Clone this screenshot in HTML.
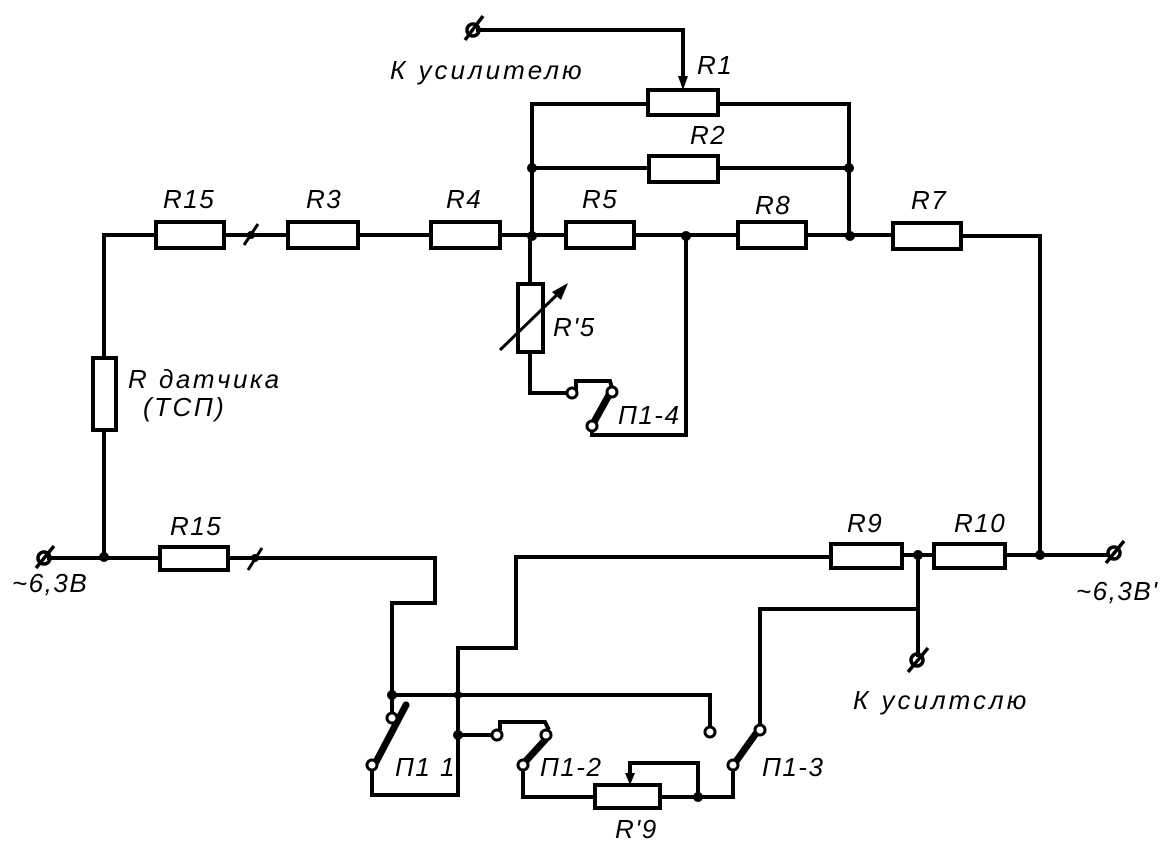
<!DOCTYPE html>
<html><head><meta charset="utf-8"><style>
html,body{margin:0;padding:0;background:#fff;}
svg{display:block}
text{font-family:"Liberation Sans","DejaVu Sans",sans-serif;font-style:italic;fill:#000;}
</style></head><body>
<svg width="1162" height="848" viewBox="0 0 1162 848" xmlns="http://www.w3.org/2000/svg">
<g fill="none" stroke="#000" stroke-width="4" stroke-linecap="square" stroke-linejoin="miter">
<polyline points="478,30 683,30 683,80"/>
<polyline points="648,104 532,104 532,236"/>
<polyline points="718,104 849,104 849,236"/>
<line x1="532" y1="168" x2="649" y2="168"/>
<line x1="718" y1="168" x2="849" y2="168"/>
<polyline points="104,555 104,430"/>
<polyline points="104,358 104,235 156,235"/>
<line x1="224" y1="235" x2="288" y2="235"/>
<line x1="358" y1="235" x2="431" y2="235"/>
<line x1="500" y1="235" x2="566" y2="235"/>
<line x1="634" y1="235" x2="738" y2="235"/>
<line x1="806" y1="235" x2="893" y2="235"/>
<polyline points="961,236 1040,236 1040,555"/>
<line x1="530" y1="236" x2="530" y2="284"/>
<polyline points="530,352 530,393 569,393"/>
<polyline points="576,388 576,381 610,381 612,388"/>
<polyline points="592,430 592,435 686,435 686,236"/>
<line x1="49" y1="558" x2="160" y2="558"/>
<polyline points="228,558 435,558 435,603 392,603 392,713"/>
<polyline points="392,695 710,695 710,724"/>
<polyline points="831,557 516,557 516,648 458,648 458,795 372,795 372,770"/>
<line x1="458" y1="735" x2="492" y2="735"/>
<polyline points="500,728 500,722 545,722 548,728"/>
<polyline points="523,770 523,797 595,797"/>
<line x1="660" y1="797" x2="733" y2="797"/>
<polyline points="698,797 698,763 630,763 630,778"/>
<line x1="733" y1="797" x2="733" y2="770"/>
<line x1="902" y1="555" x2="934" y2="555"/>
<line x1="1005" y1="555" x2="1108" y2="555"/>
<line x1="918" y1="555" x2="918" y2="655"/>
<polyline points="918,609 760,609 760,725"/>
</g>
<g fill="#fff" stroke="#000" stroke-width="4">
<rect x="648" y="90" width="70" height="25"/>
<rect x="649" y="156" width="69" height="26"/>
<rect x="156" y="222" width="68" height="26"/>
<rect x="288" y="222" width="70" height="26"/>
<rect x="431" y="222" width="69" height="26"/>
<rect x="566" y="222" width="68" height="26"/>
<rect x="738" y="222" width="68" height="26"/>
<rect x="893" y="223" width="68" height="26"/>
<rect x="518" y="284" width="25" height="68"/>
<rect x="93" y="358" width="23" height="72"/>
<rect x="160" y="547" width="68" height="23"/>
<rect x="831" y="544" width="71" height="24"/>
<rect x="934" y="544" width="71" height="24"/>
<rect x="595" y="785" width="65" height="23"/>
</g>
<polygon points="678,76 688,76 683,90" fill="#000"/>
<polygon points="625,773 635,773 630,785" fill="#000"/>
<line x1="500" y1="350" x2="565" y2="287" stroke="#000" stroke-width="3"/>
<polygon points="568,283 552,292 561,300" fill="#000"/>
<g stroke="#000" stroke-width="3">
<line x1="244" y1="245" x2="258" y2="224"/>
<line x1="248" y1="570" x2="262" y2="548"/>
</g>
<g fill="#000">
<circle cx="251" cy="235" r="4"/><circle cx="255" cy="558" r="4"/>
<circle cx="532" cy="168" r="5"/><circle cx="849" cy="168" r="5"/>
<circle cx="532" cy="236" r="5"/><circle cx="686" cy="236" r="5"/><circle cx="850" cy="236" r="5"/>
<circle cx="104" cy="557" r="5"/><circle cx="918" cy="555" r="5"/><circle cx="1040" cy="555" r="5"/>
<circle cx="392" cy="695" r="5"/><circle cx="458" cy="695" r="4"/><circle cx="458" cy="735" r="5"/>
<circle cx="698" cy="797" r="5"/>
</g>
<g stroke="#000" stroke-width="7" stroke-linecap="round">
<line x1="406" y1="705" x2="376" y2="762"/>
<line x1="545" y1="740" x2="525" y2="762"/>
<line x1="757" y1="732" x2="737" y2="760"/>
<line x1="609" y1="395" x2="594" y2="422"/>
</g>
<g fill="#fff" stroke="#000" stroke-width="3">
<circle cx="572" cy="393" r="5"/><circle cx="612" cy="392" r="5"/><circle cx="592" cy="426" r="5"/>
<circle cx="392" cy="718" r="5"/><circle cx="372" cy="765" r="5"/>
<circle cx="497" cy="735" r="5"/><circle cx="546" cy="735" r="5"/><circle cx="523" cy="765" r="5"/>
<circle cx="710" cy="732" r="5"/>
<circle cx="760" cy="730" r="5"/><circle cx="733" cy="765" r="5"/>
</g>
<g fill="none" stroke="#000" stroke-width="3.5">
<circle cx="473" cy="30" r="6"/><line x1="465" y1="40" x2="483" y2="16"/>
<circle cx="44" cy="558" r="6"/><line x1="36" y1="568" x2="54" y2="546"/>
<circle cx="1114" cy="553" r="6"/><line x1="1106" y1="563" x2="1124" y2="541"/>
<circle cx="917" cy="660" r="6"/><line x1="908" y1="672" x2="928" y2="648"/>
</g>
<g font-size="26" letter-spacing="1.5">
<text x="390" y="79" letter-spacing="3">К усилителю</text>
<text x="697" y="74">R1</text>
<text x="690" y="144">R2</text>
<text x="163" y="208">R15</text>
<text x="306" y="208">R3</text>
<text x="446" y="208">R4</text>
<text x="582" y="208">R5</text>
<text x="755" y="214">R8</text>
<text x="911" y="209">R7</text>
<text x="553" y="336">R'5</text>
<text x="618" y="424">П1-4</text>
<text x="128" y="388" letter-spacing="2.5">R датчика</text>
<text x="143" y="416" letter-spacing="2.5">(ТСП)</text>
<text x="12" y="592">~6,3В</text>
<text x="170" y="535">R15</text>
<text x="847" y="532">R9</text>
<text x="954" y="532">R10</text>
<text x="1076" y="600">~6,3В'</text>
<text x="853" y="709" letter-spacing="3">К усилтслю</text>
<text x="395" y="776">П1 1</text>
<text x="540" y="776">П1-2</text>
<text x="762" y="776">П1-3</text>
<text x="615" y="838">R'9</text>
</g>
</svg>
</body></html>
